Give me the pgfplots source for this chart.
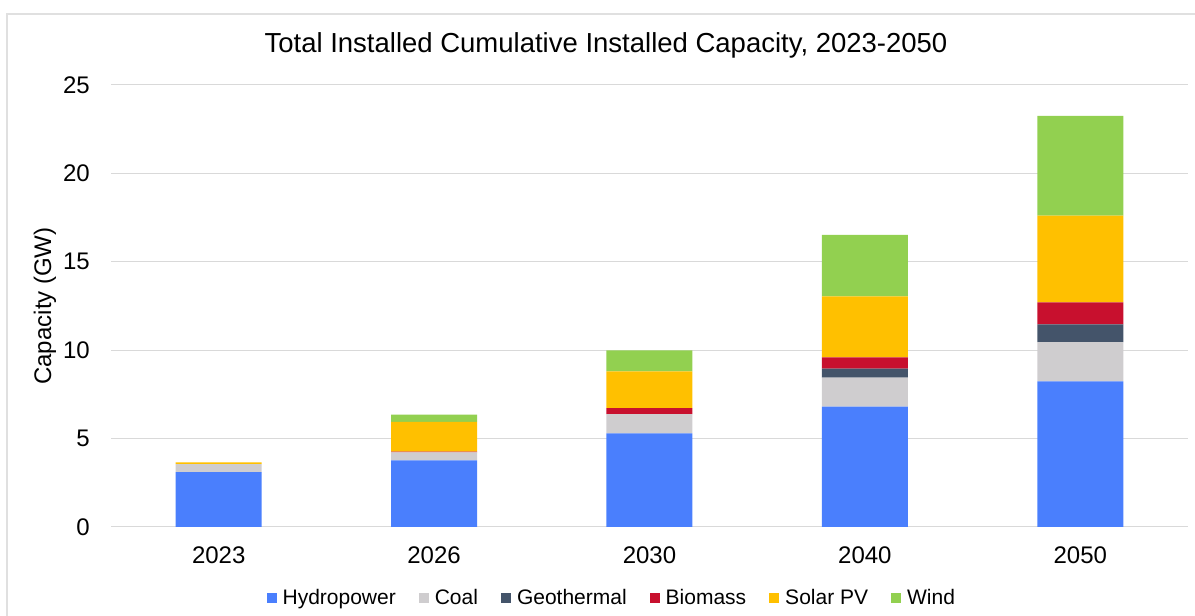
\documentclass[border=0pt]{standalone}
\usepackage{pgfplots}
\pgfplotsset{compat=1.18}
\usepackage{fontspec}
\setmainfont{Liberation Sans}
\definecolor{hydro}{HTML}{4A7FFD}
\definecolor{coal}{HTML}{CFCDCF}
\definecolor{geo}{HTML}{44546A}
\definecolor{bio}{HTML}{C8102E}
\definecolor{solar}{HTML}{FFC000}
\definecolor{wind}{HTML}{92D050}
\begin{document}
\begin{tikzpicture}
\useasboundingbox (0,0) rectangle (1195pt,616pt);
\draw[color=black!12, line width=1.5pt] (7pt,-20pt) rectangle (1220pt,602pt);
\node[font=\fontsize{27.5}{32}\selectfont] at (606pt,571pt) {Total Installed Cumulative Installed Capacity, 2023-2050};
\begin{axis}[
  at={(111pt,89pt)}, anchor=south west,
  scale only axis, width=1077pt, height=442pt,
  ybar stacked, bar width=86pt,
  xmin=-0.5, xmax=4.5, ymin=0, ymax=25,
  ytick={0,5,...,25},
  xtick=data, xticklabels={2023,2026,2030,2040,2050},
  ymajorgrids, grid style={color=black!15, line width=1pt},
  axis x line*=bottom, axis y line*=left,
  y axis line style={draw=none},
  x axis line style={color=black!15, line width=1pt, -},
  major tick length=0pt,
  /pgf/number format/assume math mode=true,
  tick label style={font=\fontsize{24}{28}\selectfont},
  yticklabel style={anchor=east, inner sep=0pt, xshift=-21pt},
  xticklabel style={anchor=north, inner sep=0pt, yshift=-20pt},
  ylabel={Capacity (GW)},
  every axis y label/.style={at={(axis description cs:-0.0613,0.5)}, rotate=90, anchor=center, font=\fontsize{24}{28}\selectfont},
  legend style={at={(axis description cs:0.465,-0.1606)}, anchor=center, draw=none, fill=none,
    font=\fontsize{21}{25}\selectfont, /tikz/every even column/.append style={column sep=21pt}},
  legend columns=6,
  legend image code/.code={\fill[#1] (0pt,-5pt) rectangle (10pt,5pt); \path (14pt,0pt);},
  every axis plot/.append style={draw=none},
]
\addplot[fill=hydro] coordinates {(0,3.10) (1,3.77) (2,5.30) (3,6.81) (4,8.24)};
\addplot[fill=coal] coordinates {(0,0.45) (1,0.45) (2,1.09) (3,1.64) (4,2.22)};
\addplot[fill=geo] coordinates {(0,0) (1,0) (2,0) (3,0.51) (4,1.00)};
\addplot[fill=bio] coordinates {(0,0) (1,0.05) (2,0.34) (3,0.64) (4,1.25)};
\addplot[fill=solar] coordinates {(0,0.10) (1,1.68) (2,2.07) (3,3.45) (4,4.90)};
\addplot[fill=wind] coordinates {(0,0) (1,0.40) (2,1.19) (3,3.47) (4,5.65)};
\legend{Hydropower,Coal,Geothermal,Biomass,Solar PV,Wind}
\end{axis}
\end{tikzpicture}
\end{document}
